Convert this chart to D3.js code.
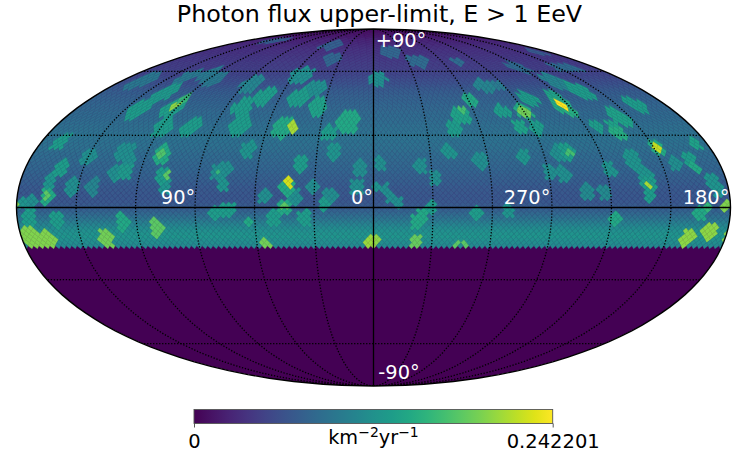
<!DOCTYPE html>
<html><head><meta charset="utf-8">
<script src="https://cdn.jsdelivr.net/npm/d3@7/dist/d3.min.js"></script>
<style>html,body{margin:0;padding:0;background:#fff}svg{display:block}text{font-family:"DejaVu Sans",sans-serif}</style>
</head><body><svg id="c" width="747" height="475"></svg>
<script>
const title = "Photon flux upper-limit, E > 1 EeV";
const fluxMax = 0.242201;
const nside = 32;
// background level per HEALPix ring from the north pole, fraction of fluxMax
const ringLevel = [.03,.04,.05,.06,.07,.08,.10,.11,.12,.13,.14,.15,.155,.16,.17,.175,.18,.185,.19,.20,
 .21,.22,.235,.25,.265,.28,.295,.305,.315,.32,.33,.335,.34,.345,.35,.355,.36,.365,.37,.38,
 .38,.375,.37,.365,.36,.35,.345,.34,.335,.33,.325,.32,.31,.305,.30,.295,.285,.28,.275,.27,
 .27,.27,.28,.29,.31,.335,.36,.39,.42,.45,.48,.50,.515,.52,.50,.485,.47];
// exposure footprints: [lon, lat, angular radius, flux]
const sources = [
[50,75.5,3.5,.073],[37,67,3.8,.08],[138,78.5,2.8,.073],[166,55,4.4,.097],[138,57,3.8,.1],[125,58.7,3.3,.1],[116,55.5,3.8,.1],
[85,53.5,4.4,.11],[54,58,4.4,.12],[38.5,51.5,4.4,.12],[48,47,4.4,.133],[70,47.4,4.4,.133],[137,49,4.4,.13],[142,41.3,4.9,.133],
[122.6,42.2,4.4,.135],[121,46,2.4,.16],[122,42.5,1.9,.2],[80,42.6,4.4,.133],[34,42.6,4.4,.14],[15,35.8,5.5,.145],
[51,33.2,4.9,.145],[45.4,33.2,2.7,.21],[76,34.5,4.9,.133],[103.5,33.2,4.4,.133],[119,33.2,4.4,.133],[25,31,3.8,.133],
[170,27.2,3.8,.133],[150,20.8,3.8,.12],[132,23,4.4,.12],[128,18.7,3.8,.12],[133,14.1,3.8,.12],[128,14.5,3.8,.13],
[112,21.6,4.4,.145],[112,22.4,2.2,.175],[67,23.8,3.8,.125],[21,22.5,3.8,.125],[7,16.6,3.8,.118],[162,16.2,3.8,.133],
[165,10.5,3.3,.125],[153,8.4,3.8,.12],[143,8.4,3.8,.11],[165,4.7,3.8,.145],[165,4.7,1.9,.18],[108,12.5,3.8,.133],
[106,13.4,1.7,.18],[106,8.4,3.3,.125],[80.6,14.5,3.8,.12],[80,14.5,1.7,.16],[77,15.4,3.8,.12],[76.6,9.3,3.3,.125],
[38,17.4,3.8,.133],[44,8,3.8,.145],[43,10.5,2.3,.225],[40,4.3,3.8,.12],[55,4.3,3.3,.12],[31,8.4,3.3,.118],[22,4.3,3.8,.118],
[24.5,1,2.8,.133],[8.4,8.4,3.8,.12],[45,-.2,3.3,.145],[45,.6,1.7,.18],[76,-1.4,3.3,.133],[80,-2.3,3.3,.133],[72.5,-1,3.3,.133],
[174,-3.9,3.8,.133],[160,-5.2,3.8,.133],[127,-6,3.8,.145],[110,-8.4,3.8,.18],[51,-4.3,3.8,.133],[35,-4.7,3.8,.133],
[63,-6.4,2.2,.145],[176,-12.1,4.4,.195],[168,-14.1,4.9,.195],[137,-12.5,3.8,.19],[56,-15,2.8,.19],[2,-14.2,2.8,.205],
[177.5,2.2,2.8,.125],[172,2.6,2.8,.12],
[-16.7,70.7,3.8,.08],[-39.6,65.3,3.8,.085],[-73.6,65.3,2.4,.085],[-3.3,56,3.8,.12],[-76,52.5,3.8,.11],[-86,53,2.8,.1],
[-118,61.8,3.3,.085],[-151,61.8,2.8,.085],[-161,61.8,2.8,.085],[-168,70.7,2.4,.07],[-130,54.6,4.4,.11],[-137.5,50,4.4,.133],
[-99,46,3.8,.133],[-116,43.6,4.4,.145],[-116.6,47.4,2.8,.14],[-117.5,40.4,2.8,.15],[-116,43.6,1.9,.24],[-90,40.4,3.8,.145],
[-90,40.4,2.2,.19],[-77.4,40.4,3.3,.133],[-162,43.1,3.8,.133],[-144,37.7,4.4,.14],[-61.5,46,3.3,.145],[-51.6,39,4.4,.14],
[-52.8,41.3,1.9,.17],[-46,33.2,3.8,.133],[-127,33.6,2.8,.133],[-136,33.2,3.3,.14],[-83,33.6,3.5,.14],[-92,33.2,3.3,.133],
[-136,31,3.3,.15],[-40,23,3.5,.125],[-56,19.5,3.8,.12],[-79,21.2,3.3,.125],[-98,22.5,3.8,.12],[-103,22.5,3.8,.133],
[-104,22.5,1.7,.17],[-152,25,3.3,.145],[-152,25,1.7,.22],[-174,26.8,2.8,.14],[-136,19.5,4.2,.125],[-157,17.8,3.3,.12],
[-165.5,19.5,3.3,.133],[-166.6,16.6,2.4,.145],[-3.4,17.8,3.1,.12],[-24.6,17,3.5,.12],[-31.5,12.1,3.3,.12],[-91,14.5,3.5,.12],
[-98,13.3,3.8,.12],[-122,15.4,3.3,.125],[-140,13.3,3.8,.125],[-140,9.3,3.8,.133],[-140,5.1,3.3,.133],[-140,9.3,1.6,.21],
[-108,6.4,3.5,.115],[-117,6,3.3,.115],[-8.9,4.3,2.8,.12],[-12.4,1.8,2.8,.12],[-5.8,7.2,2.8,.12],[-.8,8.4,2.4,.125],
[-29,.2,2.8,.133],[-25,-3,3.1,.145],[-21.5,-6,3.1,.145],[-52,-2.3,3.3,.133],[-68,-1.8,3.1,.125],[-122,-4.7,3.3,.145],
[-165,-2.2,3.5,.145],[-178,.2,2.4,.195],[-168,.2,2.2,.16],[-173,10.5,3.8,.125],[-175,7.2,3.3,.125],[-161,-12.5,3.8,.2],
[-171,-10,3.8,.2],[-22,-14.1,2.8,.185],[-43,-15,1.9,.18],[-47,-15,1.9,.18],[-.8,-14.1,2.4,.2]
];
const parallels = [-60,-30,30,60];
const meridians = [-150,-120,-90,-60,-30,30,60,90,120,150];
const lonLabels = [["90°",178,204],["0°",362,204],["270°",527,204],["180°",706,204]];
const latLabels = [["+90°",401,47],["-90°",399,379]];

const W=747, cx=373.5, cy=207.5, rx=356.5, ry=178.5;
const rad=Math.PI/180, PI=Math.PI;
function mollRaw(lam,phi){
  let t=phi;
  if(Math.abs(phi)>PI/2-1e-7) t=Math.sign(phi)*PI/2;
  else { const k=PI*Math.sin(phi); for(let n=0;n<40;n++){const d=(2*t+Math.sin(2*t)-k)/(2+2*Math.cos(2*t)); t-=d; if(Math.abs(d)<1e-9)break;} }
  return [2*Math.SQRT2/PI*lam*Math.cos(t), Math.SQRT2*Math.sin(t)];
}
const projection=d3.geoProjection(mollRaw).scale(ry/Math.SQRT2).translate([cx,cy]).reflectX(true).precision(.2);
const path=d3.geoPath(projection);
const xs=d3.scaleLinear().domain([-2*Math.SQRT2,2*Math.SQRT2]).range([cx+rx,cx-rx]);
const ys=d3.scaleLinear().domain([-Math.SQRT2,Math.SQRT2]).range([cy+ry,cy-ry]);
const color=d3.scaleSequential(d3.interpolateViridis).domain([0,fluxMax]);

// HEALPix projection plane -> lon/lat in radians
function h2s(x,y){
  const a=Math.abs(y);
  if(a<=PI/4+1e-12) return [x,Math.asin(8*y/(3*PI))];
  if(a>=PI/2-1e-12) return [x,Math.sign(y)*PI/2];
  const sig=4*a/PI, z=1-(2-sig)*(2-sig)/3;
  const xt=((x%(PI/2))+PI/2)%(PI/2);
  return [x-(a-PI/4)/(a-PI/2)*(xt-PI/4), Math.sign(y)*Math.asin(z)];
}
const cells=[];
const hw=PI/(4*nside);
ringLevel.forEach((lev,idx)=>{
  const i=idx+1, y=PI/4*(2-i/nside), base=lev*fluxMax;
  const xsr=[];
  if(i<nside){ for(let f=0;f<4;f++) for(let j=0;j<i;j++){ xsr.push(PI/4+f*PI/2+(j-(i-1)/2)*PI/(2*nside)); } }
  else { const s=(i-nside+1)%2; for(let j=0;j<4*nside;j++) xsr.push(PI/(2*nside)*(j+s/2)); }
  xsr.forEach(x0=>{
    const x=x0>PI+1e-9?x0-2*PI:x0;
    cells.push({x,y,base});
    if(Math.abs(Math.abs(x)-PI)<1e-9) cells.push({x:-x,y,base});
  });
});
const srcR=sources.map(s=>({c:[s[0],s[1]],r:s[2]*rad,f:s[3]}));
cells.forEach(c=>{
  const ll=h2s(c.x,c.y), p=[ll[0]/rad,ll[1]/rad];
  let v=c.base;
  for(const s of srcR){ if(s.f>v && d3.geoDistance(p,s.c)<s.r) v=s.f; }
  c.v=v;
  c.d=[[c.x,c.y+hw],[c.x+hw,c.y],[c.x,c.y-hw],[c.x-hw,c.y]].map(q=>{
    const l=h2s(q[0],q[1]), m=mollRaw(l[0],l[1]);
    return [xs(m[0]),ys(m[1])];
  });
});
const line=d3.line().curve(d3.curveLinearClosed);
const svg=d3.select("#c");
svg.append("defs").append("clipPath").attr("id","sky").append("path").attr("d",path({type:"Sphere"}));
const sky=svg.append("g").attr("clip-path","url(#sky)");
sky.append("path").attr("d",path({type:"Sphere"})).attr("fill",color(0));
sky.append("g").selectAll("path").data(cells).join("path")
  .attr("d",c=>line(c.d)).attr("fill",c=>color(c.v)).attr("stroke",c=>color(c.v)).attr("stroke-width",.35);

const grid=sky.append("g").attr("fill","none").attr("stroke","#000");
const lat0=d3.range(-90,90.1,5);
meridians.forEach(l=>grid.append("path").attr("d",path({type:"LineString",coordinates:lat0.map(p=>[l,p])}))
  .attr("stroke-width",1.3).attr("stroke-dasharray","1.3,1.7"));
const lonAll=d3.range(-179.9,180,10).concat([179.9]);
parallels.forEach(p=>grid.append("path").attr("d",path({type:"LineString",coordinates:lonAll.map(l=>[l,p])}))
  .attr("stroke-width",1.3).attr("stroke-dasharray","1.3,1.7"));
grid.append("path").attr("d",path({type:"LineString",coordinates:lat0.map(p=>[0,p])})).attr("stroke-width",1.3);
grid.append("path").attr("d",path({type:"LineString",coordinates:lonAll.map(l=>[l,0])})).attr("stroke-width",1.3);
svg.append("path").attr("d",path({type:"Sphere"})).attr("fill","none").attr("stroke","#000").attr("stroke-width",1.4);

svg.append("text").attr("x",379.5).attr("y",21.5).attr("text-anchor","middle").attr("font-size",23.8).attr("fill","#000").text(title);
svg.append("g").selectAll("text").data(lonLabels.concat(latLabels)).join("text")
  .attr("x",d=>d[1]).attr("y",d=>d[2]).attr("text-anchor","middle").attr("font-size",19.4).attr("fill","#fff").text(d=>d[0]);

// colour bar
const cbx=d3.scaleLinear().domain([0,fluxMax]).range([194,552.7]);
const cbY=409.5, cbH=14;
const grad=svg.select("defs").append("linearGradient").attr("id","vir");
d3.range(0,1.0001,.05).forEach(t=>grad.append("stop").attr("offset",t).attr("stop-color",d3.interpolateViridis(t)));
svg.append("rect").attr("x",cbx(0)).attr("y",cbY).attr("width",cbx(fluxMax)-cbx(0)).attr("height",cbH)
  .attr("fill","url(#vir)").attr("stroke","#555").attr("stroke-width",.9);
const ax=svg.append("g").attr("transform",`translate(0,${cbY+cbH})`)
  .call(d3.axisBottom(cbx).tickValues([0,fluxMax]).tickSize(4).tickPadding(7).tickFormat(d=>d===0?"0":String(d)));
ax.select(".domain").remove();
ax.selectAll("line").attr("stroke","#444").attr("stroke-width",.9);
ax.selectAll("text").attr("font-family",'"DejaVu Sans"').attr("font-size",19.5).attr("fill","#000");
const unit=svg.append("text").attr("x",373.5).attr("y",444).attr("text-anchor","middle").attr("font-size",19.3).attr("fill","#000");
unit.append("tspan").text("km");
unit.append("tspan").attr("dy",-7).attr("font-size",14).text("−2");
unit.append("tspan").attr("dy",7).text("yr");
unit.append("tspan").attr("dy",-7).attr("font-size",14).text("−1");
</script></body></html>
